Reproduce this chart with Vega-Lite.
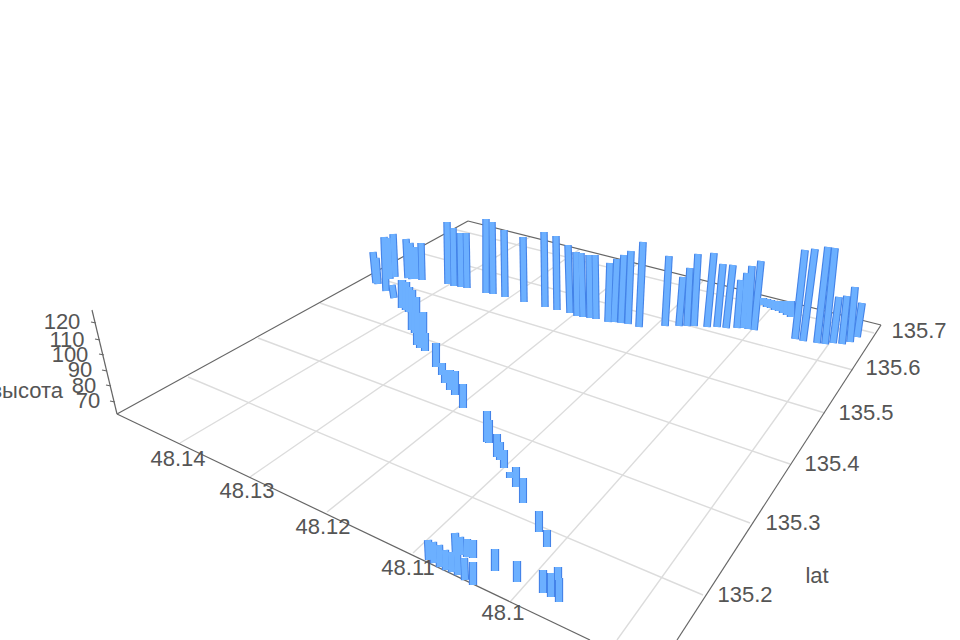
{"$schema":"https://vega.github.io/schema/vega-lite/v6.json","width":960,"height":640,"padding":0,"autosize":"none","background":"white","config":{"view":{"stroke":null}},
"datasets":{
"grid":[
{"x0":188,"y0":377,"x1":703,"y1":595},{"x0":258,"y0":338,"x1":750,"y1":523},{"x0":320,"y0":303,"x1":790,"y1":464},{"x0":371,"y0":276,"x1":825,"y1":413},{"x0":413,"y0":251,"x1":853,"y1":370},{"x0":453,"y0":229,"x1":874,"y1":333},
{"x0":180,"y0":443,"x1":530,"y1":237},{"x0":250,"y0":477,"x1":580,"y1":249},{"x0":327,"y0":512,"x1":637,"y1":264},{"x0":413,"y0":553,"x1":703,"y1":281},{"x0":510,"y0":602,"x1":778,"y1":300},{"x0":617,"y0":640,"x1":848,"y1":317}],
"edges":[
{"x0":117,"y0":414,"x1":468,"y1":221},{"x0":468,"y0":221,"x1":881,"y1":325},{"x0":881,"y0":325,"x1":677,"y1":640},{"x0":117,"y0":414,"x1":590,"y1":640},{"x0":117,"y0":414,"x1":92,"y1":310},
{"x0":96,"y0":323,"x1":91,"y1":322},{"x0":100,"y0":340,"x1":95,"y1":339},{"x0":104,"y0":355,"x1":99,"y1":354},{"x0":107,"y0":371,"x1":102,"y1":370},{"x0":111,"y0":386,"x1":106,"y1":385},{"x0":115,"y0":402,"x1":110,"y1":401}],
"bars":[
{"g":"back","x0":376,"y0":283,"x1":373,"y1":252},{"g":"back","x0":378,"y0":284,"x1":376,"y1":258},{"g":"back","x0":386,"y0":291,"x1":384,"y1":237},{"g":"back","x0":390,"y0":279,"x1":388,"y1":238},{"g":"back","x0":395,"y0":277,"x1":393,"y1":234},{"g":"back","x0":394,"y0":298,"x1":392,"y1":285},{"g":"back","x0":408,"y0":278,"x1":406,"y1":239},{"g":"back","x0":412,"y0":279,"x1":410,"y1":243},{"g":"back","x0":416,"y0":279,"x1":415,"y1":247},{"g":"back","x0":422,"y0":280,"x1":421,"y1":243},{"g":"back","x0":448,"y0":284,"x1":447,"y1":222},{"g":"back","x0":454,"y0":286,"x1":453,"y1":228},{"g":"back","x0":461,"y0":287,"x1":460,"y1":233},{"g":"back","x0":467,"y0":288,"x1":466,"y1":233},{"g":"back","x0":486,"y0":293,"x1":486,"y1":219},{"g":"back","x0":493,"y0":294,"x1":492,"y1":222},{"g":"back","x0":505,"y0":297,"x1":504,"y1":230},{"g":"back","x0":524,"y0":302,"x1":523,"y1":237},{"g":"back","x0":545,"y0":307,"x1":544,"y1":232},{"g":"back","x0":557,"y0":310,"x1":556,"y1":236},{"g":"back","x0":570,"y0":313,"x1":568,"y1":245},{"g":"back","x0":577,"y0":316,"x1":576,"y1":252},{"g":"back","x0":583,"y0":317,"x1":581,"y1":253},{"g":"back","x0":590,"y0":318,"x1":589,"y1":255},{"g":"back","x0":596,"y0":319,"x1":595,"y1":255},
{"g":"back2","x0":608,"y0":322,"x1":610,"y1":263},{"g":"back2","x0":614,"y0":322,"x1":617,"y1":259},{"g":"back2","x0":621,"y0":323,"x1":624,"y1":255},{"g":"back2","x0":628,"y0":324,"x1":631,"y1":251},{"g":"back2","x0":639,"y0":327,"x1":643,"y1":242},{"g":"back2","x0":665,"y0":326,"x1":669,"y1":256},{"g":"back2","x0":679,"y0":326,"x1":683,"y1":277},{"g":"back2","x0":687,"y0":326,"x1":690,"y1":268},{"g":"back2","x0":694,"y0":326,"x1":698,"y1":254},{"g":"back2","x0":707,"y0":327,"x1":714,"y1":253},{"g":"back2","x0":717,"y0":327,"x1":723,"y1":264},{"g":"back2","x0":726,"y0":328,"x1":733,"y1":265},{"g":"back2","x0":737,"y0":328,"x1":741,"y1":280},{"g":"back2","x0":743,"y0":328,"x1":747,"y1":273},{"g":"back2","x0":748,"y0":329,"x1":752,"y1":266},{"g":"back2","x0":754,"y0":330,"x1":761,"y1":261},
{"g":"dense","x0":763,"y0":305,"x1":763,"y1":298},{"g":"dense","x0":767,"y0":307,"x1":767,"y1":299},{"g":"dense","x0":771,"y0":308,"x1":771,"y1":300},{"g":"dense","x0":775,"y0":310,"x1":775,"y1":301},{"g":"dense","x0":779,"y0":311,"x1":779,"y1":301},{"g":"dense","x0":783,"y0":313,"x1":783,"y1":301},{"g":"dense","x0":787,"y0":315,"x1":787,"y1":301},{"g":"dense","x0":791,"y0":317,"x1":791,"y1":301},
{"g":"right","x0":795,"y0":339,"x1":805,"y1":250},{"g":"right","x0":803,"y0":341,"x1":815,"y1":249},{"g":"right","x0":817,"y0":343,"x1":828,"y1":247},{"g":"right","x0":825,"y0":344,"x1":835,"y1":248},{"g":"right","x0":833,"y0":343,"x1":839,"y1":297},{"g":"right","x0":842,"y0":344,"x1":847,"y1":296},{"g":"right","x0":850,"y0":342,"x1":855,"y1":287},{"g":"right","x0":857,"y0":337,"x1":862,"y1":303},
{"g":"dense","x0":402,"y0":308,"x1":402,"y1":280},{"g":"dense","x0":406,"y0":310,"x1":406,"y1":282},{"g":"dense","x0":409,"y0":312,"x1":409,"y1":287},{"g":"dense","x0":412,"y0":313,"x1":412,"y1":290},{"g":"dense","x0":416,"y0":315,"x1":416,"y1":297},{"g":"dense","x0":412,"y0":330,"x1":412,"y1":310},{"g":"dense","x0":415,"y0":333,"x1":415,"y1":312},{"g":"dense","x0":418,"y0":338,"x1":418,"y1":313},{"g":"dense","x0":423,"y0":340,"x1":423,"y1":312},{"g":"diag","x0":417,"y0":345,"x1":417,"y1":332},{"g":"diag","x0":420,"y0":348,"x1":420,"y1":333},{"g":"diag","x0":425,"y0":351,"x1":425,"y1":333},{"g":"diag","x0":436,"y0":367,"x1":436,"y1":343},{"g":"diag","x0":442,"y0":375,"x1":442,"y1":363},{"g":"diag","x0":445,"y0":383,"x1":445,"y1":370},{"g":"diag","x0":450,"y0":390,"x1":450,"y1":370},{"g":"diag","x0":455,"y0":395,"x1":455,"y1":371},{"g":"diag","x0":463,"y0":408,"x1":463,"y1":384},{"g":"diag","x0":487,"y0":442,"x1":487,"y1":411},{"g":"diag","x0":489,"y0":443,"x1":489,"y1":420},{"g":"diag","x0":497,"y0":457,"x1":497,"y1":434},{"g":"diag","x0":500,"y0":460,"x1":500,"y1":442},{"g":"diag","x0":504,"y0":468,"x1":504,"y1":450},{"g":"diag","x0":510,"y0":478,"x1":510,"y1":472},{"g":"diag","x0":516,"y0":487,"x1":516,"y1":467},{"g":"diag","x0":523,"y0":503,"x1":523,"y1":478},{"g":"diag","x0":539,"y0":532,"x1":539,"y1":511},{"g":"diag","x0":547,"y0":547,"x1":547,"y1":530},
{"g":"front","x0":456,"y0":555,"x1":455,"y1":533},{"g":"front","x0":461,"y0":555,"x1":460,"y1":537},{"g":"front","x0":467,"y0":557,"x1":467,"y1":539},{"g":"front","x0":473,"y0":558,"x1":473,"y1":540},{"g":"front","x0":429,"y0":560,"x1":428,"y1":540},{"g":"front","x0":434,"y0":563,"x1":433,"y1":542},{"g":"front","x0":440,"y0":567,"x1":439,"y1":545},{"g":"front","x0":446,"y0":570,"x1":445,"y1":550},{"g":"front","x0":452,"y0":572,"x1":451,"y1":552},{"g":"front","x0":458,"y0":575,"x1":457,"y1":553},{"g":"front","x0":465,"y0":580,"x1":464,"y1":558},{"g":"front","x0":473,"y0":585,"x1":473,"y1":562},{"g":"front","x0":495,"y0":571,"x1":495,"y1":549},{"g":"front","x0":517,"y0":582,"x1":517,"y1":561},{"g":"front","x0":558,"y0":580,"x1":558,"y1":567},{"g":"front","x0":543,"y0":593,"x1":543,"y1":570},{"g":"front","x0":551,"y0":597,"x1":551,"y1":573},{"g":"front","x0":559,"y0":602,"x1":559,"y1":578}],
"labels":[
{"t":"48.14","x0":178,"y0":459,"a":"c"},{"t":"48.13","x0":247,"y0":491,"a":"c"},{"t":"48.12","x0":323,"y0":527,"a":"c"},{"t":"48.11","x0":408,"y0":568,"a":"c"},{"t":"48.1","x0":503,"y0":613,"a":"c"},
{"t":"135.2","x0":745,"y0":595,"a":"c"},{"t":"135.3","x0":793,"y0":523,"a":"c"},{"t":"135.4","x0":832,"y0":464,"a":"c"},{"t":"135.5","x0":866,"y0":413,"a":"c"},{"t":"135.6","x0":893,"y0":368,"a":"c"},{"t":"135.7","x0":919,"y0":331,"a":"c"},{"t":"lat","x0":817,"y0":576,"a":"c"},
{"t":"120","x0":62,"y0":322,"a":"c"},{"t":"110","x0":67,"y0":340,"a":"c"},{"t":"100","x0":70,"y0":355,"a":"c"},{"t":"90","x0":80,"y0":370,"a":"c"},{"t":"80","x0":84,"y0":386,"a":"c"},{"t":"70","x0":88,"y0":401,"a":"c"},{"t":"высота","x0":63,"y0":391,"a":"r"}]},
"layer":[
{"data":{"name":"grid"},"mark":{"type":"rule","color":"#dcdcdc","strokeWidth":1.4,"clip":true},"encoding":{"x":{"field":"x0","type":"quantitative","scale":{"domain":[0,960]},"axis":null},"y":{"field":"y0","type":"quantitative","scale":{"domain":[640,0]},"axis":null},"x2":{"field":"x1"},"y2":{"field":"y1"}}},
{"data":{"name":"edges"},"mark":{"type":"rule","color":"#666666","strokeWidth":1.2,"clip":true},"encoding":{"x":{"field":"x0","type":"quantitative","scale":{"domain":[0,960]},"axis":null},"y":{"field":"y0","type":"quantitative","scale":{"domain":[640,0]},"axis":null},"x2":{"field":"x1"},"y2":{"field":"y1"}}},
{"data":{"name":"bars"},"mark":{"type":"rule","color":"#4483e8"},"encoding":{"x":{"field":"x0","type":"quantitative","scale":{"domain":[0,960]},"axis":null},"y":{"field":"y0","type":"quantitative","scale":{"domain":[640,0]},"axis":null},"x2":{"field":"x1"},"y2":{"field":"y1"},"size":{"field":"g","type":"nominal","legend":null,"scale":{"domain":["back","back2","right","diag","front","dense"],"range":[7.5,8.5,11,8,9,7.5]}}}},
{"data":{"name":"bars"},"mark":{"type":"rule","color":"#6cb0ff"},"encoding":{"x":{"field":"x0","type":"quantitative","scale":{"domain":[0,960]},"axis":null},"y":{"field":"y0","type":"quantitative","scale":{"domain":[640,0]},"axis":null},"x2":{"field":"x1"},"y2":{"field":"y1"},"size":{"field":"g","type":"nominal","legend":null,"scale":{"domain":["back","back2","right","diag","front","dense"],"range":[5.3,6.3,8.8,5.6,6.6,2]}}}},
{"data":{"name":"labels"},"transform":[{"filter":"datum.a==='c'"}],"mark":{"type":"text","font":"Liberation Sans","fontSize":22,"color":"#555555","align":"center","baseline":"middle"},"encoding":{"x":{"field":"x0","type":"quantitative","scale":{"domain":[0,960]},"axis":null},"y":{"field":"y0","type":"quantitative","scale":{"domain":[640,0]},"axis":null},"text":{"field":"t"}}},
{"data":{"name":"labels"},"transform":[{"filter":"datum.a==='r'"}],"mark":{"type":"text","font":"Liberation Sans","fontSize":22,"color":"#555555","align":"right","baseline":"middle"},"encoding":{"x":{"field":"x0","type":"quantitative","scale":{"domain":[0,960]},"axis":null},"y":{"field":"y0","type":"quantitative","scale":{"domain":[640,0]},"axis":null},"text":{"field":"t"}}}
],
"resolve":{"scale":{"size":"independent"}}}
